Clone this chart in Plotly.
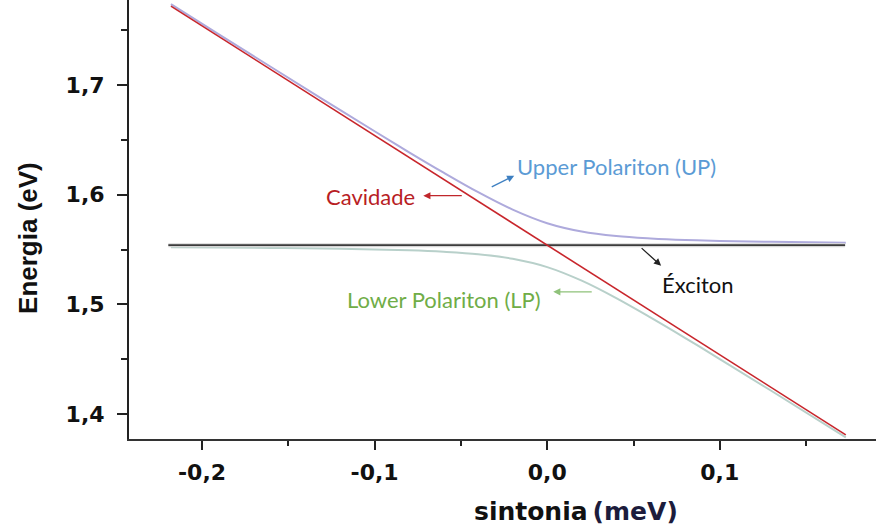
import plotly.graph_objects as go

# Detuning (meV) and energies (eV)
cav_x = [-0.218, 0.173]
cav_e = [1.772, 1.381]

exc_x = [-0.2195, 0.1726]
exc_e = [1.554, 1.554]

pol_x = [-0.218, -0.19, -0.16, -0.13, -0.10, -0.08, -0.06, -0.04, -0.02,
         0.0, 0.02, 0.04, 0.06, 0.08, 0.10, 0.13, 0.173]
up_e = [1.7738, 1.7461, 1.7165, 1.6870, 1.6579, 1.6387, 1.6201, 1.6023, 1.5864,
        1.5740, 1.5664, 1.5623, 1.5601, 1.5587, 1.5579, 1.5570, 1.5563]
lp_e = [1.5522, 1.5519, 1.5515, 1.5510, 1.5501, 1.5493, 1.5479, 1.5457, 1.5416,
        1.5340, 1.5216, 1.5057, 1.4879, 1.4693, 1.4501, 1.4210, 1.3787]

x_ticks = [-0.2, -0.1, 0.0, 0.1]
x_tick_text = ["-0,2", "-0,1", "0,0", "0,1"]
y_ticks = [1.4, 1.5, 1.6, 1.7]
y_tick_text = ["1,4", "1,5", "1,6", "1,7"]

fig = go.Figure()

fig.add_trace(go.Scatter(x=pol_x, y=up_e, mode="lines", line=dict(color="#aeaadc", width=2, shape="spline")))
fig.add_trace(go.Scatter(x=pol_x, y=lp_e, mode="lines", line=dict(color="#b8d0ca", width=2, shape="spline")))
fig.add_trace(go.Scatter(x=exc_x, y=exc_e, mode="lines", line=dict(color="#d6d6d6", width=4)))
fig.add_trace(go.Scatter(x=exc_x, y=exc_e, mode="lines", line=dict(color="#3c3c3c", width=1.6)))
fig.add_trace(go.Scatter(x=cav_x, y=cav_e, mode="lines", line=dict(color="#c8262c", width=1.6)))

label_font = "Lato, 'Open Sans', sans-serif"

# Arrows (text-less annotations) and labels
arrows = [
    dict(x=-0.0718, y=1.5991, ax=40, ay=0, color="#c0262b"),
    dict(x=-0.0191, y=1.6174, ax=-24, ay=12, color="#3d7fc1"),
    dict(x=0.0660, y=1.5352, ax=-21, ay=-19, color="#222222"),
    dict(x=0.0035, y=1.5114, ax=40, ay=0, color="#8fc27a"),
]
for a in arrows:
    fig.add_annotation(x=a["x"], y=a["y"], ax=a["ax"], ay=a["ay"], text="",
                       showarrow=True, arrowhead=2, arrowsize=1.1, arrowwidth=1.3,
                       arrowcolor=a["color"])

labels = [
    dict(text="Cavidade", x=-0.1025, y=1.598, xanchor="center", color="#b81d24"),
    dict(text="Upper Polariton (UP)", x=-0.0185, y=1.6256, xanchor="left", color="#5b9bd5"),
    dict(text="Éxciton", x=0.0654, y=1.5178, xanchor="left", color="#111111"),
    dict(text="Lower Polariton (LP)", x=-0.117, y=1.5041, xanchor="left", color="#70ad47"),
]
for l in labels:
    fig.add_annotation(x=l["x"], y=l["y"], text=l["text"], showarrow=False,
                       xanchor=l["xanchor"], yanchor="middle",
                       font=dict(family=label_font, size=22, color=l["color"]))

# Axis titles
fig.add_annotation(xref="paper", yref="paper", x=-0.1352, y=0.458, text="<b>Energia (eV)</b>",
                   textangle=-90, showarrow=False, xanchor="center", yanchor="middle",
                   font=dict(family="Liberation Sans, Arial, sans-serif", size=26, color="#111111"))
fig.add_annotation(xref="paper", yref="paper", x=0.598, y=-0.166,
                   text="<b>sintonia\u2009<span style='color:#1c1c3c'>(meV)</span></b>",
                   showarrow=False, xanchor="center", yanchor="middle",
                   font=dict(family="DejaVu Sans, sans-serif", size=25, color="#111111"))

axis_font = dict(family="DejaVu Sans, sans-serif", size=22, color="#111111", weight="bold")

fig.update_xaxes(range=[-0.2423, 0.1905], tickvals=x_ticks, ticktext=x_tick_text,
                 ticks="outside", ticklen=9, tickwidth=2, tickcolor="#222222",
                 minor=dict(dtick=0.05, tick0=0, ticks="outside", ticklen=5, tickwidth=2, tickcolor="#222222"),
                 showline=True, linecolor="#333333", linewidth=2, showgrid=False, zeroline=False,
                 tickfont=axis_font, ticklabelstandoff=4)
fig.update_yaxes(range=[1.3772, 1.7776], tickvals=y_ticks, ticktext=y_tick_text,
                 ticks="outside", ticklen=10, tickwidth=2, tickcolor="#222222",
                 minor=dict(dtick=0.05, tick0=1.4, ticks="outside", ticklen=6, tickwidth=2, tickcolor="#222222"),
                 showline=True, linecolor="#222222", linewidth=2, showgrid=False, zeroline=False,
                 tickfont=axis_font, ticklabelstandoff=8)

fig.update_layout(width=876, height=529, margin=dict(l=129, r=0, t=0, b=90),
                  plot_bgcolor="white", paper_bgcolor="white", showlegend=False)

fig.write_html("out.html")
